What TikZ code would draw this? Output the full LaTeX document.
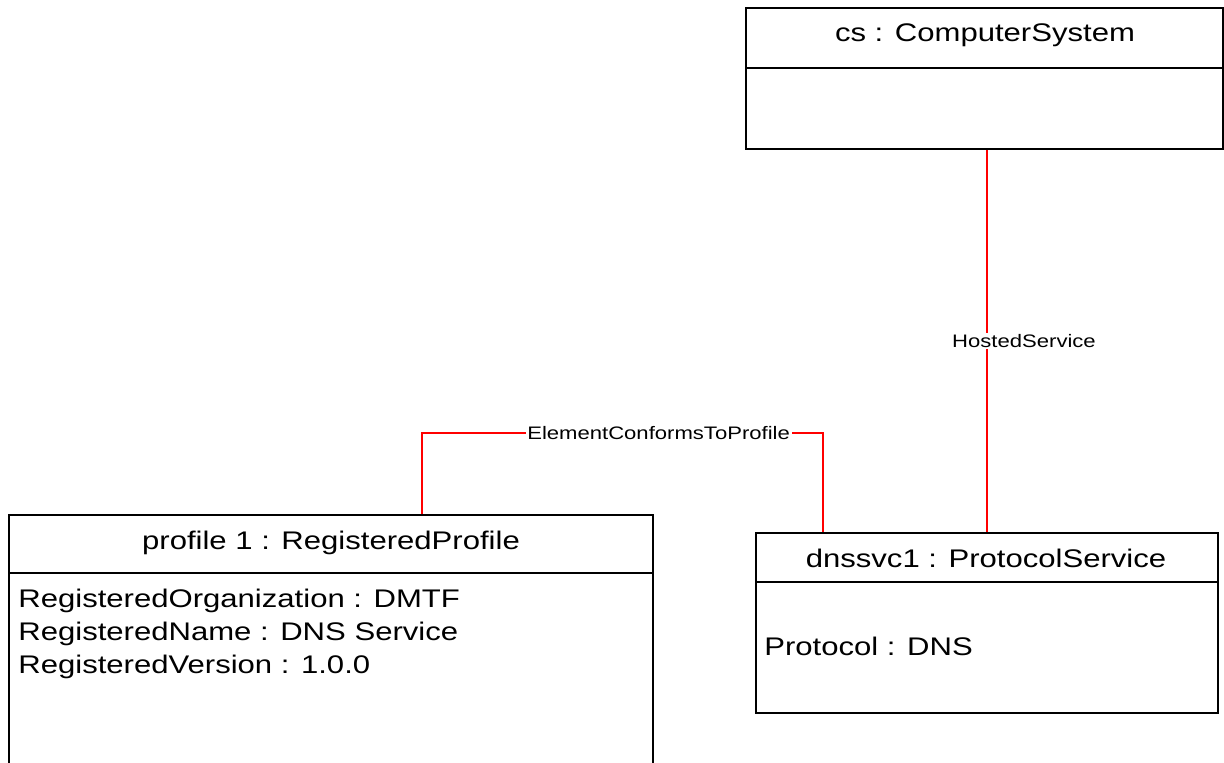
\documentclass[tikz,border=0pt]{standalone}
\usepackage{fontspec}
\setmainfont{Liberation Sans}[FakeStretch=1.22]

\tikzset{
	objbox/.style={draw, line width=1.1pt, rectangle, inner sep=0pt, anchor=north west},
	objname/.style={anchor=base, inner sep=0pt, font=\fontsize{14.5}{17}\selectfont},
	objattr/.style={anchor=base west, inner sep=0pt, font=\fontsize{14.5}{17}\selectfont},
	assoc/.style={draw=red, line width=1.1pt},
	assoclabel/.style={fill=white, inner sep=1pt, font=\fontsize{10.3}{12}\selectfont}
}

\begin{document}
\begin{tikzpicture}[x=0.02cm, y=-0.02cm]
	\useasboundingbox (0,0) rectangle (1224,763);
	\clip (0,0) rectangle (1224,763);

	% computer system
	\node[objbox, minimum width=9.54cm, minimum height=2.82cm] (cs) at (745,7) {};
	\draw[line width=1.1pt] (745,68) -- (1222,68);
	\node[objname] (cs-name) at (985,42) {cs : ComputerSystem};

	% registered profile, runs off the bottom
	\node[objbox, minimum width=12.88cm, minimum height=5.4cm] (prof) at (8,514) {};
	\draw[line width=1.1pt] (8,573) -- (652,573);
	\node[objname] (prof-name) at (331,549) {profile 1 : RegisteredProfile};
	\node[objattr] (prof-org) at (18,607) {RegisteredOrganization : DMTF};
	\node[objattr] (prof-rn) at (18,640) {RegisteredName : DNS Service};
	\node[objattr] (prof-ver) at (18,673) {RegisteredVersion : 1.0.0};

	% protocol service
	\node[objbox, minimum width=9.24cm, minimum height=3.6cm] (dns) at (755,532) {};
	\draw[line width=1.1pt] (755,582) -- (1217,582);
	\node[objname] (dns-name) at (986,567) {dnssvc1 : ProtocolService};
	\node[objattr] (dns-proto) at (764,655) {Protocol : DNS};

	% associations
	\coordinate (hs) at (987,340);
	\draw[assoc] (cs.south -| hs) -- node[assoclabel, xshift=0.74cm] {HostedService} (dns.north -| hs);

	\coordinate (ectp-l) at (422,433);
	\coordinate (ectp-r) at (823,433);
	\draw[assoc] (prof.north -| ectp-l) -- (ectp-l)
		-- node[assoclabel, pos=0.59] {ElementConformsToProfile} (ectp-r)
		-- (dns.north -| ectp-r);
\end{tikzpicture}
\end{document}
